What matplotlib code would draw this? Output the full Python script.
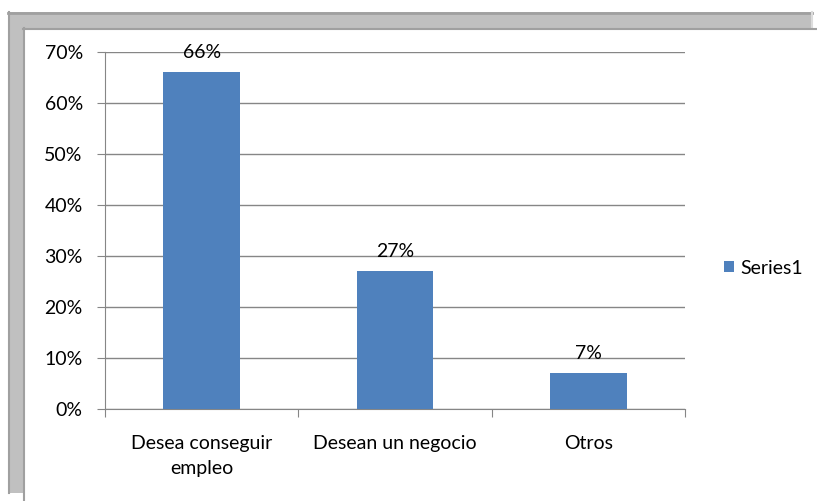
import matplotlib
matplotlib.use("Agg")
import matplotlib.pyplot as plt
from matplotlib.patches import Rectangle
from matplotlib.lines import Line2D
from matplotlib.ticker import FixedLocator, PercentFormatter

categories = ["Desea conseguir\nempleo", "Desean un negocio", "Otros"]
values = [0.66, 0.27, 0.07]
labels = ["66%", "27%", "7%"]
series_name = "Series1"

W, H = 817, 501
plt.rcParams['font.family'] = ['Lato', 'DejaVu Sans']
fig = plt.figure(figsize=(W / 100, H / 100), dpi=100)
FS = 14

def fx(px):
    return px / W

def fy(py):
    return 1 - py / H

# Gray frame artifact
fig.add_artist(Rectangle((fx(8), fy(493)), fx(804), (481) / H, transform=fig.transFigure,
                         facecolor="#c0c0c0", edgecolor="none", zorder=0))
fig.add_artist(Line2D([fx(8), fx(812)], [fy(12.5), fy(12.5)], transform=fig.transFigure, color="#a0a0a0", lw=2, zorder=0.2))
fig.add_artist(Line2D([fx(8.5), fx(8.5)], [fy(12), fy(493)], transform=fig.transFigure, color="#a0a0a0", lw=1.5, zorder=0.2))
fig.add_artist(Line2D([fx(811.5), fx(811.5)], [fy(12), fy(28)], transform=fig.transFigure, color="#dcdcdc", lw=1.5, zorder=0.2))
fig.add_artist(Rectangle((fx(23), 0), 1 - fx(23), fy(28), transform=fig.transFigure,
                         facecolor="white", edgecolor="none", zorder=0.5))
fig.add_artist(Line2D([fx(23), fx(817)], [fy(28.5), fy(28.5)], transform=fig.transFigure, color="#a0a0a0", lw=1.5, zorder=0.6))
fig.add_artist(Line2D([fx(23.5), fx(23.5)], [fy(28), 0], transform=fig.transFigure, color="#a0a0a0", lw=1.5, zorder=0.6))

ax = fig.add_axes([fx(105), fy(409), fx(685) - fx(105), (409 - 52) / H])
ax.set_zorder(5)
ax.set_facecolor("none")
x = list(range(len(categories)))
bars = ax.bar(x, values, width=0.395, color="#4f81bd", label=series_name, zorder=3)
ax.set_xlim(-0.5, 2.5)
ax.set_ylim(0, 0.7)
ax.yaxis.set_major_locator(FixedLocator([i / 10 for i in range(8)]))
ax.yaxis.set_major_formatter(PercentFormatter(1.0, decimals=0))
ax.grid(axis="y", color="#868686", lw=1, zorder=0)
ax.set_axisbelow(True)
for s in ["top", "right"]:
    ax.spines[s].set_visible(False)
for s in ["left", "bottom"]:
    ax.spines[s].set_color("#868686")
ax.tick_params(axis="y", length=6, color="#868686", labelsize=FS, pad=10)
ax.set_xticks([-0.5, 0.5, 1.5, 2.5])
ax.set_xticklabels([])
ax.tick_params(axis="x", length=6, color="#868686")
ax.set_xticks(x, minor=True)
ax.set_xticklabels(categories, minor=True, fontsize=FS)
ax.tick_params(axis="x", which="minor", length=0, pad=19)
for lab in ax.get_xticklabels(minor=True):
    lab.set_linespacing(1.55)

for b, t in zip(bars, labels):
    ax.annotate(t, (b.get_x() + b.get_width() / 2, b.get_height()), xytext=(0, 14),
                textcoords="offset points", ha="center", va="center", fontsize=FS)

leg = fig.legend(handles=[bars], labels=[series_name], loc="center left",
                 bbox_to_anchor=(fx(706), fy(268)), frameon=False, fontsize=FS,
                 handlelength=0.55, handleheight=0.55, handletextpad=0.3)
leg.set_zorder(6)

fig.savefig("out.png", dpi=100)
